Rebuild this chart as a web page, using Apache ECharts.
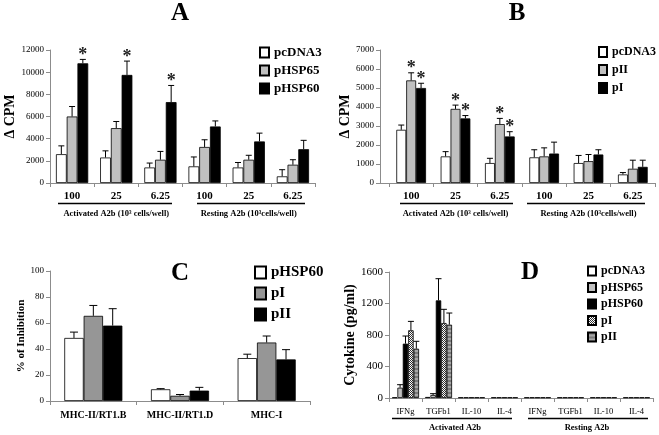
<!DOCTYPE html>
<html><head><meta charset="utf-8">
<script src="https://cdn.jsdelivr.net/npm/echarts@6/dist/echarts.min.js"></script>
<style>html,body{margin:0;padding:0;background:#fff}#c{width:659px;height:435px}</style>
</head><body><div id="c"></div>
<script>
const FONT = '"Liberation Serif","Times New Roman",serif';

// ---------- Panel A ----------
const aCats = ['100', '25', '6.25', '100', '25', '6.25'];
const aGroups = ['Activated A2b (10³ cells/well)', 'Resting A2b (10³cells/well)'];
const aNames = ['pcDNA3', 'pHSP65', 'pHSP60'];
const aPcDNA3 = [2600, 2300, 1400, 1500, 1400, 600];
const aPcDNA3Err = [750, 600, 400, 850, 450, 600];
const aPHSP65 = [6000, 4950, 2100, 3250, 2100, 1650];
const aPHSP65Err = [900, 600, 750, 650, 400, 450];
const aPHSP60 = [10800, 9750, 7300, 5100, 3750, 3050];
const aPHSP60Err = [350, 1250, 1500, 500, 750, 800];
const aPHSP60Star = [1, 1, 1, 0, 0, 0];

// ---------- Panel B ----------
const bCats = ['100', '25', '6.25', '100', '25', '6.25'];
const bGroups = ['Activated A2b (10³ cells/well)', 'Resting A2b (10³cells/well)'];
const bNames = ['pcDNA3', 'pII', 'pI'];
const bPcDNA3 = [2800, 1400, 1050, 1350, 1050, 450];
const bPcDNA3Err = [250, 250, 250, 400, 400, 100];
const bPII = [5400, 3900, 3100, 1400, 1150, 750];
const bPIIErr = [400, 200, 300, 450, 350, 450];
const bPIIStar = [1, 1, 1, 0, 0, 0];
const bPI = [5000, 3400, 2450, 1550, 1500, 850];
const bPIErr = [250, 150, 250, 600, 250, 350];
const bPIStar = [1, 1, 1, 0, 0, 0];

// ---------- Panel C ----------
const cCats = ['MHC-II/RT1.B', 'MHC-II/RT1.D', 'MHC-I'];
const cNames = ['pHSP60', 'pI', 'pII'];
const cPHSP60 = [48.5, 9, 33];
const cPHSP60Err = [4.5, 0.5, 3];
const cPI = [65.5, 4, 45];
const cPIErr = [8, 1, 5];
const cPII = [58, 8, 32];
const cPIIErr = [13, 2.5, 7.5];

// ---------- Panel D ----------
const dCats = ['IFNg', 'TGFb1', 'IL-10', 'IL-4', 'IFNg', 'TGFb1', 'IL-10', 'IL-4'];
const dGroups = ['Activated A2b', 'Resting A2b'];
const dNames = ['pcDNA3', 'pHSP65', 'pHSP60', 'pI', 'pII'];
const dPcDNA3 = [8, 13, 8, 8, 8, 8, 8, 8];
const dPcDNA3Err = [0, 0, 0, 0, 0, 0, 0, 0];
const dPHSP65 = [131, 38, 8, 8, 8, 8, 8, 8];
const dPHSP65Err = [38, 17, 0, 0, 0, 0, 0, 0];
const dPHSP60 = [690, 1240, 8, 8, 8, 8, 8, 8];
const dPHSP60Err = [97, 275, 0, 0, 0, 0, 0, 0];
const dPI = [860, 952, 8, 8, 8, 8, 8, 8];
const dPIErr = [113, 174, 0, 0, 0, 0, 0, 0];
const dPII = [626, 931, 8, 8, 8, 8, 8, 8];
const dPIIErr = [94, 148, 0, 0, 0, 0, 0, 0];

const yTitles = ['Δ CPM', 'Δ CPM', '% of Inhibition', 'Cytokine (pg/ml)'];
const panelLetters = ['A', 'B', 'C', 'D'];

// ---------- patterns ----------
function hatchPattern() {
  const c = document.createElement('canvas'); c.width = 4; c.height = 4;
  const g = c.getContext('2d');
  g.fillStyle = '#ffffff'; g.fillRect(0, 0, 4, 4);
  g.fillStyle = '#333333';
  g.fillRect(0, 0, 1, 1); g.fillRect(1, 1, 1, 1); g.fillRect(2, 2, 1, 1); g.fillRect(3, 3, 1, 1);
  g.fillRect(2, 0, 1, 1); g.fillRect(3, 1, 1, 1); g.fillRect(0, 2, 1, 1); g.fillRect(1, 3, 1, 1);
  return { image: c, repeat: 'repeat' };
}
function stripePattern() {
  const c = document.createElement('canvas'); c.width = 4; c.height = 4;
  const g = c.getContext('2d');
  g.fillStyle = '#a6a6a6'; g.fillRect(0, 0, 4, 4);
  g.fillStyle = '#7a7a7a'; g.fillRect(0, 0, 4, 2);
  return { image: c, repeat: 'repeat' };
}

const panels = [
  { key: 'A', cats: aCats, names: aNames, gap: 0.27, cap: 3,
    vals: [aPcDNA3, aPHSP65, aPHSP60], errs: [aPcDNA3Err, aPHSP65Err, aPHSP60Err],
    stars: [null, null, aPHSP60Star], colors: ['#ffffff', '#c0c0c0', '#000000'] },
  { key: 'B', cats: bCats, names: bNames, gap: 0.33, cap: 3,
    vals: [bPcDNA3, bPII, bPI], errs: [bPcDNA3Err, bPIIErr, bPIErr],
    stars: [null, bPIIStar, bPIStar], colors: ['#ffffff', '#c0c0c0', '#000000'] },
  { key: 'C', cats: cCats, names: cNames, gap: 0.33, cap: 4,
    vals: [cPHSP60, cPI, cPII], errs: [cPHSP60Err, cPIErr, cPIIErr],
    stars: [null, null, null], colors: ['#ffffff', '#969696', '#000000'] },
  { key: 'D', cats: dCats, names: dNames, gap: 0.18, cap: 3,
    vals: [dPcDNA3, dPHSP65, dPHSP60, dPI, dPII], errs: [dPcDNA3Err, dPHSP65Err, dPHSP60Err, dPIErr, dPIIErr],
    stars: [null, null, null, null, null], colors: ['#ffffff', '#c0c0c0', '#000000', hatchPattern(), stripePattern()] }
];

const grids = [
  { left: 50, top: 50, width: 265, height: 133 },
  { left: 389, top: 50, width: 266, height: 133 },
  { left: 50, top: 271, width: 260, height: 130 },
  { left: 389, top: 272, width: 264, height: 126 },
  // group-label strips
  { left: 50, top: 183, width: 265, height: 1 },
  { left: 389, top: 183, width: 266, height: 1 },
  { left: 389, top: 398, width: 264, height: 1 }
];
const yRanges = [[0, 12000, 2000], [0, 7000, 1000], [0, 100, 20], [0, 1600, 400]];
const yOffsets = [0, 9, 0, 0];
const yLabelSize = [9, 9, 9, 11];
const xLabelStyle = [
  { fontSize: 11, fontWeight: 'bold', margin: 8 },
  { fontSize: 11, fontWeight: 'bold', margin: 8 },
  { fontSize: 10, fontWeight: 'bold', margin: 9 },
  { fontSize: 8.5, fontWeight: 'normal', margin: 9 }
];
const nameGaps = [26, 26, 21, 30];
const nameSizes = [14, 14, 11, 14];

const xAxis = [], yAxis = [], series = [], legend = [];
panels.forEach((p, i) => {
  xAxis.push({
    type: 'category', gridIndex: i, data: p.cats,
    axisLine: { lineStyle: { color: '#8c8c8c', width: 1 } },
    axisTick: { show: true, length: 4, lineStyle: { color: '#8c8c8c' } },
    axisLabel: { color: '#000', fontFamily: FONT, fontSize: xLabelStyle[i].fontSize,
      fontWeight: xLabelStyle[i].fontWeight, margin: xLabelStyle[i].margin, interval: 0 }
  });
  yAxis.push({
    type: 'value', gridIndex: i, min: yRanges[i][0], max: yRanges[i][1], interval: yRanges[i][2],
    offset: yOffsets[i],
    splitLine: { show: false },
    axisLine: { show: true, lineStyle: { color: '#8c8c8c', width: 1 } },
    axisTick: { show: true, length: 4, lineStyle: { color: '#8c8c8c' } },
    axisLabel: { color: '#000', fontFamily: FONT, fontSize: yLabelSize[i], margin: 6, formatter: v => String(v) },
    name: yTitles[i], nameLocation: 'middle', nameGap: nameGaps[i], nameRotate: 90,
    nameTextStyle: { color: '#000', fontFamily: FONT, fontWeight: 'bold', fontSize: nameSizes[i] }
  });
  const n = p.names.length;
  p.names.forEach((nm, s) => {
    series.push({
      type: 'bar', name: p.key + '|' + nm, xAxisIndex: i, yAxisIndex: i,
      data: p.vals[s], barGap: '0%', barCategoryGap: (p.gap * 100) + '%',
      itemStyle: { color: p.colors[s], borderColor: '#000', borderWidth: 0.8 },
      silent: true, animation: false, z: 2
    });
  });
  const errData = [];
  p.names.forEach((nm, s) => {
    p.vals[s].forEach((v, k) => {
      errData.push([k, v, p.errs[s][k], s, p.stars[s] ? p.stars[s][k] : 0]);
    });
  });
  const gap = p.gap, cap = p.cap;
  series.push({
    type: 'custom', xAxisIndex: i, yAxisIndex: i, data: errData, silent: true, animation: false, z: 5,
    encode: { x: 0, y: 1 },
    renderItem: function (params, api) {
      const cat = api.value(0), v = api.value(1), e = api.value(2), si = api.value(3), star = api.value(4);
      const band = api.size([1, 0])[0];
      const bw = band * (1 - gap) / n;
      const p0 = api.coord([cat, v]);
      const p1 = api.coord([cat, v + e]);
      const x = p0[0] + (si - (n - 1) / 2) * bw;
      const ch = [];
      if (e > 0) {
        ch.push({ type: 'line', shape: { x1: x, y1: p0[1], x2: x, y2: p1[1] }, style: { stroke: '#000', lineWidth: 1 } });
        ch.push({ type: 'line', shape: { x1: x - cap, y1: p1[1], x2: x + cap, y2: p1[1] }, style: { stroke: '#000', lineWidth: 1 } });
      }
      if (star) {
        ch.push({ type: 'text', x: x, y: p1[1] - 4, style: { text: '*', fill: '#222', font: 'bold 18px ' + FONT, align: 'center', verticalAlign: 'middle' } });
      }
      return { type: 'group', children: ch };
    }
  });
});

// group label axes
const groupSets = [[4, aGroups, 25], [5, bGroups, 25], [6, dGroups, 24]];
groupSets.forEach(([g, data, margin]) => {
  xAxis.push({
    type: 'category', gridIndex: g, data: data,
    axisLine: { show: false }, axisTick: { show: false },
    axisLabel: { color: '#000', fontFamily: FONT, fontSize: 8.5, fontWeight: 'bold', margin: margin, interval: 0 }
  });
  yAxis.push({ type: 'value', gridIndex: g, show: false });
});

const legendPos = [
  { left: 259, top: 46, fs: 13, iw: 9, ih: 10, gap: 5 },
  { left: 598, top: 46, fs: 12, iw: 8, ih: 10, gap: 6 },
  { left: 254, top: 265, fs: 15, iw: 11, ih: 12, gap: 6 },
  { left: 587, top: 265, fs: 12, iw: 8, ih: 9, gap: 4.5 }
];
panels.forEach((p, i) => {
  const L = legendPos[i];
  legend.push({
    orient: 'vertical', left: L.left, top: L.top, padding: 0, itemGap: L.gap,
    itemWidth: L.iw, itemHeight: L.ih, icon: 'rect', selectedMode: false,
    data: p.names.map(nm => p.key + '|' + nm),
    formatter: nm => nm.split('|')[1],
    textStyle: { fontFamily: FONT, fontWeight: 'bold', fontSize: L.fs, color: '#000' }
  });
});

const titlePos = [[180, 14], [517, 14], [180, 274], [530, 273]];
const graphic = titlePos.map((t, i) => ({
  type: 'text', x: t[0], y: t[1],
  style: { text: panelLetters[i], font: 'bold 25px ' + FONT, fill: '#000', align: 'center', verticalAlign: 'middle' }
}));
const underlines = [[58, 172, 203.5], [197, 305, 203.5], [400, 513, 203.5], [527, 645, 203.5], [392, 512, 418.5], [528, 648, 418.5]];
underlines.forEach(u => graphic.push({
  type: 'line', shape: { x1: u[0], y1: u[2], x2: u[1], y2: u[2] }, style: { stroke: '#000', lineWidth: 1.5 }
}));
// join B's offset y axis to its x axis line
graphic.push({ type: 'line', shape: { x1: 380, y1: 183.5, x2: 389, y2: 183.5 }, style: { stroke: '#8c8c8c', lineWidth: 1 } });

const chart = echarts.init(document.getElementById('c'), null, { renderer: 'canvas' });
chart.setOption({
  backgroundColor: '#fff', animation: false,
  grid: grids, xAxis, yAxis, series, legend, graphic
});
</script>
</body></html>
